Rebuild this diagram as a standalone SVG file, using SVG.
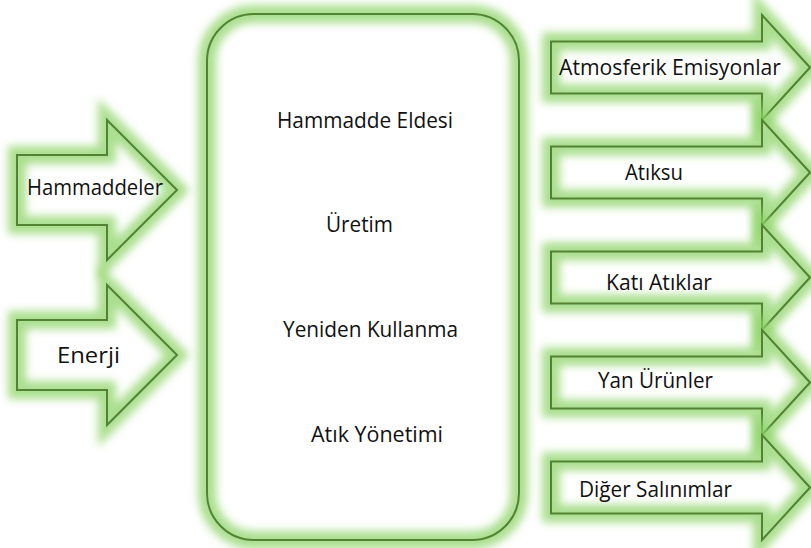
<svg xmlns="http://www.w3.org/2000/svg" xmlns:xlink="http://www.w3.org/1999/xlink" width="811" height="548" viewBox="0 0 811 548">
<defs>
<filter id="blur" x="-20%" y="-20%" width="140%" height="140%"><feGaussianBlur stdDeviation="4"/></filter>
<path id="p-ham" d="M17,155 H107 V120 L177,190 L107,260 V225 H17 Z"/>
<path id="p-ene" d="M17,320 H107 V285 L177,355 L107,425 V390 H17 Z"/>
<rect id="p-box" x="207" y="14" width="312" height="526" rx="47"/>
<path id="p-r1" d="M551,41.5 H762 V15 L810,67.5 L762,120 V93.5 H551 Z"/>
<path id="p-r2" d="M551,146.5 H762 V120 L810,172.5 L762,225 V198.5 H551 Z"/>
<path id="p-r3" d="M551,251.5 H762 V225 L810,277.5 L762,330 V303.5 H551 Z"/>
<path id="p-r4" d="M551,356.5 H762 V330 L810,382.5 L762,435 V408.5 H551 Z"/>
<path id="p-r5" d="M551,461.5 H762 V435 L810,487.5 L762,540 V513.5 H551 Z"/>
</defs>
<style>
.fill{fill:#ffffff;stroke:none}
.glow{fill:none;stroke:#8fd46a;stroke-width:18;stroke-opacity:0.75;filter:url(#blur)}
.line{fill:none;stroke:#548235;stroke-width:2;stroke-linejoin:miter}
text{font-family:"Open Sans","Liberation Sans",sans-serif;fill:#111111;font-size:21px}
</style>
<rect width="811" height="548" fill="#ffffff"/>
<g id="connectors"/>
<g id="box">
<use xlink:href="#p-box" class="fill"/><use xlink:href="#p-box" class="glow"/><use xlink:href="#p-box" class="line"/>
<text x="277" y="128" textLength="176" lengthAdjust="spacingAndGlyphs">Hammadde Eldesi</text>
<text x="326" y="232" textLength="67" lengthAdjust="spacingAndGlyphs">Üretim</text>
<text x="283" y="337" textLength="175" lengthAdjust="spacingAndGlyphs">Yeniden Kullanma</text>
<text x="311" y="442" textLength="132" lengthAdjust="spacingAndGlyphs">Atık Yönetimi</text>
</g>
<g id="hammaddeler">
<use xlink:href="#p-ham" class="fill"/><use xlink:href="#p-ham" class="glow"/><use xlink:href="#p-ham" class="line"/>
<text x="27" y="195" textLength="136" lengthAdjust="spacingAndGlyphs">Hammaddeler</text>
</g>
<g id="enerji">
<use xlink:href="#p-ene" class="fill"/><use xlink:href="#p-ene" class="glow"/><use xlink:href="#p-ene" class="line"/>
<text x="57" y="363" textLength="63" lengthAdjust="spacingAndGlyphs">Enerji</text>
</g>
<g id="atmosferik">
<use xlink:href="#p-r1" class="fill"/><use xlink:href="#p-r1" class="glow"/><use xlink:href="#p-r1" class="line"/>
<text x="559" y="75" textLength="222" lengthAdjust="spacingAndGlyphs">Atmosferik Emisyonlar</text>
</g>
<g id="atiksu">
<use xlink:href="#p-r2" class="fill"/><use xlink:href="#p-r2" class="glow"/><use xlink:href="#p-r2" class="line"/>
<text x="625" y="180" textLength="58" lengthAdjust="spacingAndGlyphs">Atıksu</text>
</g>
<g id="kati">
<use xlink:href="#p-r3" class="fill"/><use xlink:href="#p-r3" class="glow"/><use xlink:href="#p-r3" class="line"/>
<text x="606" y="290" textLength="106" lengthAdjust="spacingAndGlyphs">Katı Atıklar</text>
</g>
<g id="yan">
<use xlink:href="#p-r4" class="fill"/><use xlink:href="#p-r4" class="glow"/><use xlink:href="#p-r4" class="line"/>
<text x="598" y="388" textLength="115" lengthAdjust="spacingAndGlyphs">Yan Ürünler</text>
</g>
<g id="diger">
<use xlink:href="#p-r5" class="fill"/><use xlink:href="#p-r5" class="glow"/><use xlink:href="#p-r5" class="line"/>
<text x="579" y="497" textLength="153" lengthAdjust="spacingAndGlyphs">Diğer Salınımlar</text>
</g>
</svg>
